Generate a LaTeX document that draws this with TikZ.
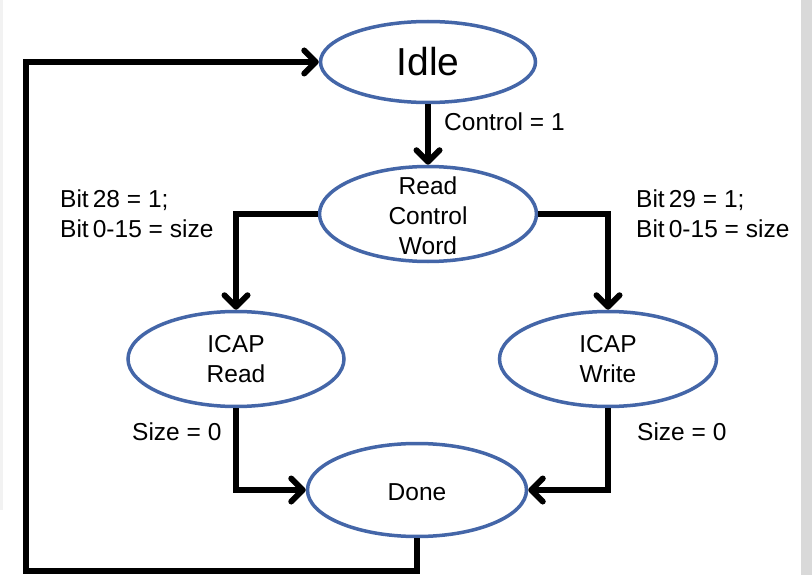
\documentclass[tikz,border=0pt]{standalone}
\usepackage{fontspec}
\setmainfont{Liberation Sans}
\usetikzlibrary{shapes.geometric,arrows.meta}
\definecolor{stateblue}{RGB}{68,102,168}
\definecolor{stripl}{RGB}{242,242,242}
\definecolor{stripr}{RGB}{217,217,217}
\begin{document}
\begin{tikzpicture}[x=1pt,y=-1pt,
  state/.style={ellipse,draw=stateblue,line width=3.5pt,fill=white,inner sep=0pt},
  txt/.style={inner sep=0pt,align=center,font=\fontsize{24.5}{30}\selectfont},
  lbl/.style={inner sep=0pt,align=left,anchor=base west,font=\fontsize{24.5}{30}\selectfont},
  conn/.style={line width=6pt},
  arr/.style={conn,-{Straight Barb[length=11.5pt,width=23pt,round]}}]
\useasboundingbox (0,0) rectangle (812,575);
\fill[white] (0,0) rectangle (812,575);
\fill[stripl] (0,0) rectangle (3,510);
\fill[stripr] (801,0) rectangle (812,575);
% states
\node[state,minimum width=215pt,minimum height=81pt] (idle) at (428,62) {};
\node[state,minimum width=217pt,minimum height=95pt] (rcw) at (428,214) {};
\node[state,minimum width=216pt,minimum height=95pt] (icapr) at (236,359) {};
\node[state,minimum width=217pt,minimum height=95pt] (icapw) at (608,359) {};
\node[state,minimum width=219pt,minimum height=93pt] (done) at (417,490) {};
\node[txt,font=\fontsize{39}{44}\selectfont] (idlet) at (idle) {Idle};
\node[txt] (rcwt) at ([yshift=-2pt]rcw.center) {Read\\Control\\Word};
\node[txt] (icaprt) at (icapr) {ICAP\\Read};
\node[txt] (icapwt) at (icapw) {ICAP\\Write};
\node[txt] (donet) at ([yshift=-2pt]done.center) {Done};
% labels
\node[lbl] (lctl) at (444,131) {Control = 1};
\node[lbl] (lbl28) at (60,237) {Bit\,28 = 1;\\Bit\,0-15 = size};
\node[lbl] (lbl29) at (636,237) {Bit\,29 = 1;\\Bit\,0-15 = size};
\node[lbl] (lsz1) at (132,440) {Size = 0};
\node[lbl] (lsz2) at (637,440) {Size = 0};
% connectors
\coordinate (loopc) at (26,571);
\draw[arr] (idle.south) -- (rcw.north);
\draw[arr] (rcw.west) -| (icapr.north);
\draw[arr] (rcw.east) -| (icapw.north);
\draw[arr] (icapr.south) |- (done.west);
\draw[arr] (icapw.south) |- (done.east);
\draw[arr] (done.south) |- (loopc) |- (idle.west);
\end{tikzpicture}
\end{document}
